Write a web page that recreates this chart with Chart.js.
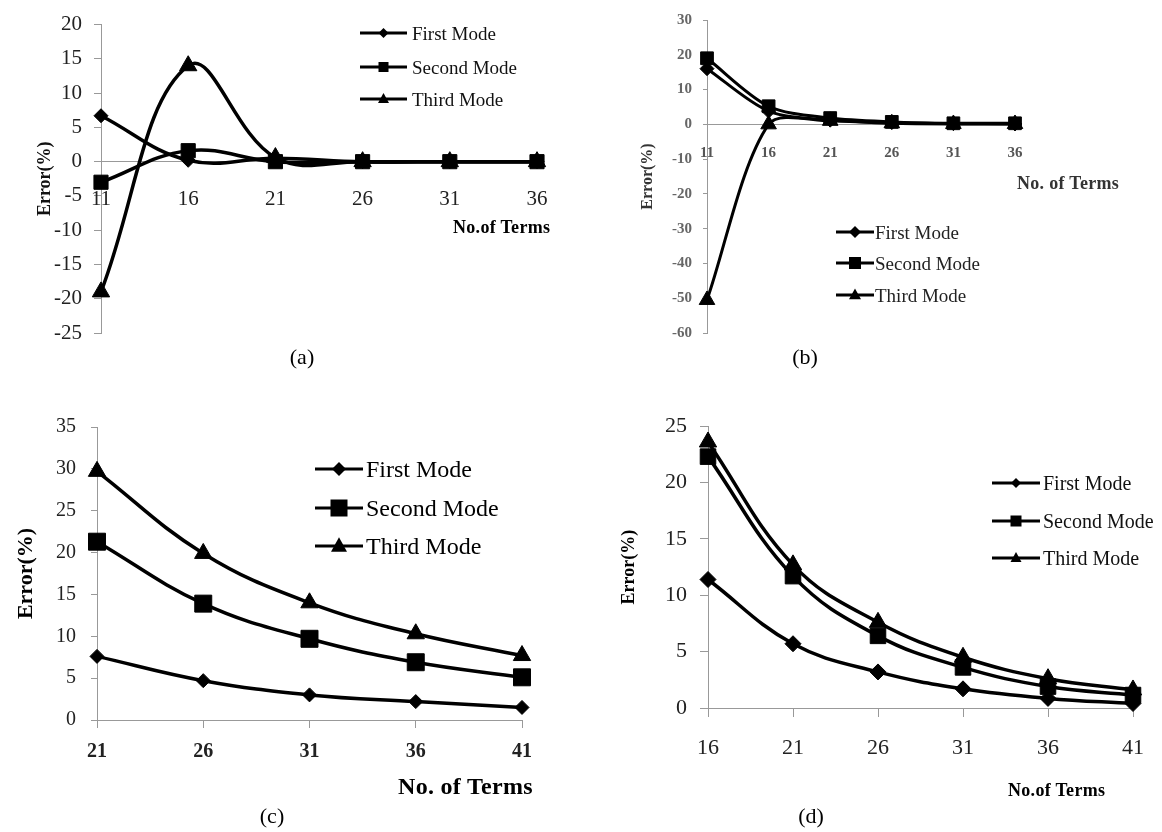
<!DOCTYPE html>
<html><head><meta charset="utf-8">
<script src="https://cdn.jsdelivr.net/npm/chart.js@4.4.1/dist/chart.umd.min.js"></script>
<style>
html,body{margin:0;padding:0;background:#fff;}
#page{position:relative;width:1162px;height:832px;overflow:hidden;font-family:'Liberation Serif','Times New Roman',serif;color:#000;background:#fff;}
#page canvas{position:absolute;}
.txt{position:absolute;white-space:nowrap;line-height:1;transform:translateY(-50%);}
.cap{position:absolute;white-space:nowrap;line-height:1;transform:translate(-50%,-50%);}
svg.leg{position:absolute;overflow:visible;}
</style></head><body><div id="page"></div>
<script>
// ---------- data ----------
const seriesNames = ['First Mode', 'Second Mode', 'Third Mode'];
const yTitle = 'Error(%)';

const termsA  = ['11', '16', '21', '26', '31', '36'];
const firstA  = [6.7, 0.2, 0.5, 0, 0, 0];
const secondA = [-3.0, 1.6, 0.0, 0, 0, 0];
const thirdA  = [-19.0, 14.0, 0.6, 0, 0, 0];
const yRangeA = [-25, 20, 5];
const xTitleA = 'No.of Terms';

const termsB  = ['11', '16', '21', '26', '31', '36'];
const firstB  = [16.0, 3.8, 1.2, 0.5, 0.2, 0.1];
const secondB = [19.0, 5.2, 1.8, 0.7, 0.3, 0.3];
const thirdB  = [-50.5, 0.0, 1.0, 0.3, 0.1, 0.1];
const yRangeB = [-60, 30, 10];
const xTitleB = 'No. of Terms';

const termsC  = ['21', '26', '31', '36', '41'];
const firstC  = [7.6, 4.7, 3.0, 2.2, 1.5];
const secondC = [21.3, 13.9, 9.7, 6.9, 5.1];
const thirdC  = [29.7, 19.9, 14.0, 10.3, 7.7];
const yRangeC = [0, 35, 5];
const xTitleC = 'No. of Terms';

const termsD  = ['16', '21', '26', '31', '36', '41'];
const firstD  = [11.4, 5.7, 3.2, 1.7, 0.85, 0.4];
const secondD = [22.3, 11.7, 6.4, 3.6, 1.9, 1.15];
const thirdD  = [23.6, 12.7, 7.6, 4.5, 2.6, 1.6];
const yRangeD = [0, 25, 5];
const xTitleD = 'No.of Terms';

const captions = ['(a)', '(b)', '(c)', '(d)'];

// ---------- layout / style ----------
const FONT = "'Liberation Serif', 'Times New Roman', serif";
const styles = ['rectRot', 'rect', 'triangle'];
const page = document.getElementById('page');

const panels = [
  { labels: termsA, series: [firstA, secondA, thirdA], yr: yRangeA, xTitle: xTitleA, caption: captions[0],
    box: [0, 0, 580, 400], pad: {left: 0, right: 43, top: 17, bottom: 67}, yW: 101, xAtZero: true,
    lineW: 3.5, tension: 0.4, radii: [7, 10, 10],
    yTick: {size: 21, weight: 'normal', color: '#222', pad: 12, len: 7},
    xTick: {size: 21, weight: 'normal', color: '#222', pad: 25, len: 0},
    yTitle: {size: 18, color: '#111', pad: 35},
    xTitlePos: [453, 227, 18, '#000'], capPos: [302, 357, 22],
    leg: {x: 360, w: 47, tx: 412, ys: [33, 67, 99], size: 19, m: [5, 10, 11], color: '#111'} },
  { labels: termsB, series: [firstB, secondB, thirdB], yr: yRangeB, xTitle: xTitleB, caption: captions[1],
    box: [580, 0, 582, 400], pad: {left: 0, right: 147, top: 18, bottom: 67}, yW: 127, xAtZero: true,
    lineW: 3, tension: 0.3, radii: [7, 9, 9],
    yTick: {size: 15, weight: 'bold', color: '#666', pad: 11, len: 4},
    xTick: {size: 15, weight: 'bold', color: '#555', pad: 20, len: 0},
    yTitle: {size: 16, color: '#333', pad: 58},
    xTitlePos: [1017, 183, 18, '#333'], capPos: [805, 357, 22],
    leg: {x: 836, w: 38, tx: 875, ys: [232, 263, 295], size: 19, m: [6, 12, 12], color: '#222'} },
  { labels: termsC, series: [firstC, secondC, thirdC], yr: yRangeC, xTitle: xTitleC, caption: captions[2],
    box: [0, 400, 580, 432], pad: {left: 0, right: 58, top: 25, bottom: 0}, yW: 97, xH: 112, xAtZero: false,
    lineW: 3.5, tension: 0.4, radii: [7, 12, 10],
    yTick: {size: 20, weight: 'normal', color: '#222', pad: 15, len: 6},
    xTick: {size: 20, weight: 'bold', color: '#222', pad: 12, len: 8},
    yTitle: {size: 22, color: '#000', pad: 13},
    xTitlePos: [398, 786, 24, '#000'], capPos: [272, 816, 22],
    leg: {x: 315, w: 48, tx: 366, ys: [469, 508, 546], size: 24, m: [7, 17, 16], color: '#000'} },
  { labels: termsD, series: [firstD, secondD, thirdD], yr: yRangeD, xTitle: xTitleD, caption: captions[3],
    box: [580, 400, 582, 432], pad: {left: 0, right: 27, top: 23, bottom: 0}, yW: 128, xH: 124, xAtZero: false,
    lineW: 3.5, tension: 0.4, radii: [8, 11, 10],
    yTick: {size: 22, weight: 'normal', color: '#222', pad: 13, len: 8},
    xTick: {size: 22, weight: 'normal', color: '#222', pad: 18, len: 9},
    yTitle: {size: 18, color: '#000', pad: 39},
    xTitlePos: [1008, 790, 18, '#000'], capPos: [811, 816, 22],
    leg: {x: 992, w: 48, tx: 1043, ys: [483, 521, 558], size: 20, m: [5, 11, 11], color: '#111'} }
];

function addText(cls, text, x, y, size, opts) {
  const d = document.createElement('div');
  d.className = cls;
  d.textContent = text;
  d.style.left = x + 'px';
  d.style.top = y + 'px';
  d.style.fontSize = size + 'px';
  if (opts) Object.assign(d.style, opts);
  page.appendChild(d);
}

function markerSVG(kind, cx, cy, s) {
  if (kind === 0) return `<polygon points="${cx},${cy - s} ${cx + s},${cy} ${cx},${cy + s} ${cx - s},${cy}" fill="#000"/>`;
  if (kind === 1) return `<rect x="${cx - s / 2}" y="${cy - s / 2}" width="${s}" height="${s}" fill="#000"/>`;
  const h = s * 0.9;
  return `<polygon points="${cx},${cy - h * 0.6} ${cx + s / 2},${cy + h * 0.4} ${cx - s / 2},${cy + h * 0.4}" fill="#000"/>`;
}

panels.forEach(p => {
  const [bx, by, bw, bh] = p.box;
  const cv = document.createElement('canvas');
  cv.width = bw; cv.height = bh;
  cv.style.left = bx + 'px'; cv.style.top = by + 'px';
  cv.style.width = bw + 'px'; cv.style.height = bh + 'px';
  page.appendChild(cv);

  const datasets = p.series.map((vals, i) => ({
    label: seriesNames[i],
    data: vals,
    borderColor: '#000',
    backgroundColor: '#000',
    borderWidth: p.lineW,
    pointStyle: styles[i],
    pointRadius: p.radii[i],
    pointBackgroundColor: '#000',
    pointBorderColor: '#000',
    pointBorderWidth: 1,
    tension: p.tension,
    fill: false,
    clip: false
  }));

  new Chart(cv.getContext('2d'), {
    type: 'line',
    data: { labels: p.labels, datasets },
    options: {
      responsive: false,
      animation: false,
      devicePixelRatio: 1,
      layout: { padding: p.pad },
      plugins: { legend: { display: false }, tooltip: { enabled: false } },
      scales: {
        x: {
          type: 'category',
          offset: false,
          position: p.xAtZero ? { y: 0 } : 'bottom',
          grid: { display: true, drawOnChartArea: false, drawTicks: p.xTick.len > 0, tickLength: p.xTick.len, color: '#999', lineWidth: 1 },
          border: { display: true, color: '#999', width: 1 },
          ticks: { autoSkip: false, maxRotation: 0, padding: p.xTick.pad, color: p.xTick.color,
                   font: { family: FONT, size: p.xTick.size, weight: p.xTick.weight } },
          afterFit: s => { if (!p.xAtZero) s.height = p.xH; }
        },
        y: {
          type: 'linear',
          min: p.yr[0], max: p.yr[1],
          grid: { display: true, drawOnChartArea: false, drawTicks: true, tickLength: p.yTick.len, color: '#999', lineWidth: 1 },
          border: { display: true, color: '#999', width: 1 },
          ticks: { stepSize: p.yr[2], padding: p.yTick.pad, color: p.yTick.color,
                   font: { family: FONT, size: p.yTick.size, weight: p.yTick.weight } },
          title: { display: true, text: yTitle, color: p.yTitle.color, padding: { top: p.yTitle.pad, bottom: 0 },
                   font: { family: FONT, size: p.yTitle.size, weight: 'bold' } },
          afterFit: s => { s.width = p.yW; }
        }
      }
    }
  });

  // legend (HTML)
  const L = p.leg;
  seriesNames.forEach((name, i) => {
    const y = L.ys[i];
    const svg = document.createElementNS('http://www.w3.org/2000/svg', 'svg');
    svg.setAttribute('class', 'leg');
    svg.setAttribute('width', L.w);
    svg.setAttribute('height', 20);
    svg.style.left = L.x + 'px';
    svg.style.top = (y - 10) + 'px';
    svg.innerHTML = `<line x1="0" y1="10" x2="${L.w}" y2="10" stroke="#000" stroke-width="3"/>` + markerSVG(i, L.w / 2, 10, L.m[i]);
    page.appendChild(svg);
    addText('txt', name, L.tx, y, L.size, { color: L.color });
  });

  // x-axis title and caption
  const [tx, ty, ts, tc] = p.xTitlePos;
  addText('txt', p.xTitle, tx, ty, ts, { fontWeight: 'bold', color: tc, letterSpacing: '0.3px' });
  const [cx, cy, cs] = p.capPos;
  addText('cap', p.caption, cx, cy, cs);
});
</script>
</body></html>
